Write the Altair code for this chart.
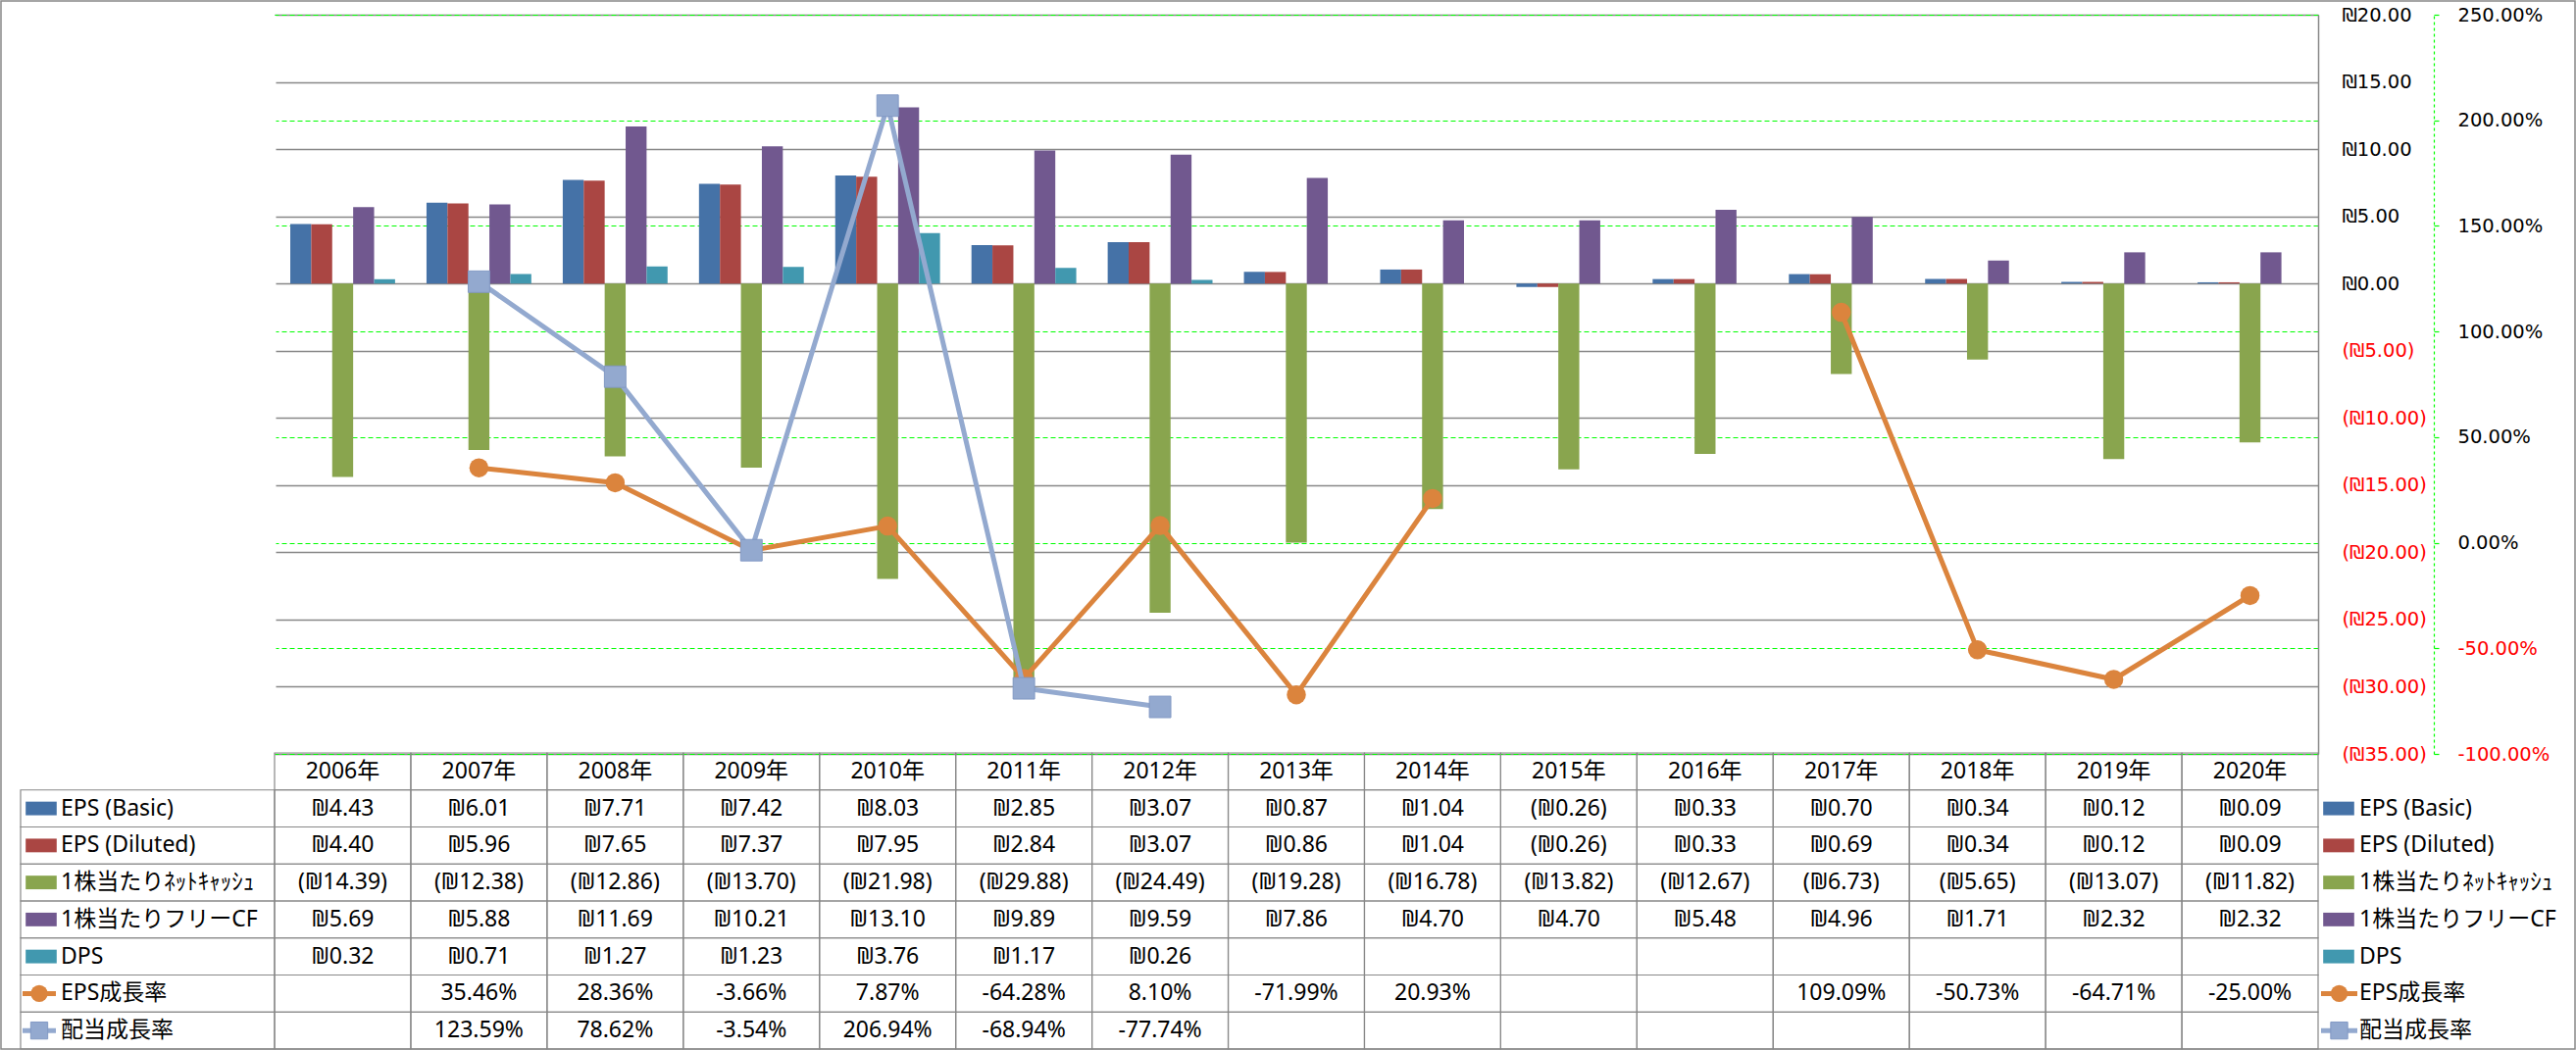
import altair as alt
import pandas as pd
import numpy as np

# ---------------- data ----------------
years = ["2006年", "2007年", "2008年", "2009年", "2010年", "2011年", "2012年", "2013年",
         "2014年", "2015年", "2016年", "2017年", "2018年", "2019年", "2020年"]
eps_basic = [4.43, 6.01, 7.71, 7.42, 8.03, 2.85, 3.07, 0.87, 1.04, -0.26, 0.33, 0.70, 0.34, 0.12, 0.09]
eps_diluted = [4.40, 5.96, 7.65, 7.37, 7.95, 2.84, 3.07, 0.86, 1.04, -0.26, 0.33, 0.69, 0.34, 0.12, 0.09]
net_cash = [-14.39, -12.38, -12.86, -13.70, -21.98, -29.88, -24.49, -19.28, -16.78, -13.82,
            -12.67, -6.73, -5.65, -13.07, -11.82]
free_cf = [5.69, 5.88, 11.69, 10.21, 13.10, 9.89, 9.59, 7.86, 4.70, 4.70, 5.48, 4.96, 1.71, 2.32, 2.32]
dps = [0.32, 0.71, 1.27, 1.23, 3.76, 1.17, 0.26, None, None, None, None, None, None, None, None]
eps_growth = [None, 35.46, 28.36, -3.66, 7.87, -64.28, 8.10, -71.99, 20.93, None, None,
              109.09, -50.73, -64.71, -25.00]
div_growth = [None, 123.59, 78.62, -3.54, 206.94, -68.94, -77.74, None, None, None, None,
              None, None, None, None]

bar_series = ["EPS (Basic)", "EPS (Diluted)", "1株当たりﾈｯﾄｷｬｯｼｭ", "1株当たりフリーCF", "DPS"]
line_series = ["EPS成長率", "配当成長率"]
bar_colors = ["#4572A7", "#AA4643", "#89A54E", "#71588F", "#4198AF"]
line_colors = ["#DB843D", "#93A9CF"]
money_ticks = [20, 15, 10, 5, 0, -5, -10, -15, -20, -25, -30, -35]
pct_ticks = [250, 200, 150, 100, 50, 0, -50, -100]
header_key = "header"

# ---------------- layout constants ----------------
W, H = 2084, 754
TABLE_TOP, TABLE_BOTTOM = 753, 1055
GRAY = "#888888"
GREEN = "#00FF00"
TFONT = "Noto Sans, Noto Sans CJK JP, DejaVu Sans"
TSIZE = 23
AFONT = "DejaVu Sans"
ASIZE = 19.5


def fmt_money(v):
    if v is None:
        return ""
    return "(₪%.2f)" % (-v) if v < 0 else "₪%.2f" % v


def fmt_pct(v):
    return "" if v is None else "%.2f%%" % v


bar_values = [eps_basic, eps_diluted, net_cash, free_cf, dps]
bar_rows = []
for s, vals in zip(bar_series, bar_values):
    for y, v in zip(years, vals):
        if v is not None:
            bar_rows.append({"year": y, "series": s, "value": v})
bar_df = pd.DataFrame(bar_rows)

eps_df = pd.DataFrame({"year": years, "pct": [np.nan if v is None else v for v in eps_growth]})
div_df = pd.DataFrame({"year": years, "pct": [np.nan if v is None else v for v in div_growth]})

row_keys = [header_key] + bar_series + line_series
text_rows = []
for y in years:
    text_rows.append({"year": y, "row": header_key, "text": y})
for s, vals in zip(bar_series, bar_values):
    for y, v in zip(years, vals):
        text_rows.append({"year": y, "row": s, "text": fmt_money(v)})
for s, vals in zip(line_series, [eps_growth, div_growth]):
    for y, v in zip(years, vals):
        text_rows.append({"year": y, "row": s, "text": fmt_pct(v)})
text_df = pd.DataFrame(text_rows)
cell_df = text_df[["year", "row"]]

label_df = pd.DataFrame({"row": bar_series + line_series})
swatch_df = pd.DataFrame({"row": bar_series, "series": bar_series})
icon_df = pd.DataFrame({"row": line_series, "color": line_colors})
one_df = pd.DataFrame({"a": [0]})

# ---------------- scales / axes ----------------
x_enc = alt.X("year:N", scale=alt.Scale(type="band", domain=years, paddingInner=0, paddingOuter=0),
              axis=None)
money_scale = alt.Scale(domain=[-35, 20], range=[H, 0], nice=False)
pct_scale = alt.Scale(domain=[-100, 250], range=[H, 0], nice=False, zero=False)
row_scale = alt.Scale(type="band", domain=row_keys, range=[TABLE_TOP, TABLE_BOTTOM],
                      paddingInner=0, paddingOuter=0)
row_y = alt.Y("row:N", scale=row_scale, axis=None)
color_scale = alt.Scale(domain=bar_series, range=bar_colors)

money_axis = alt.Axis(
    orient="right", values=money_ticks, title=None,
    grid=True, gridColor=GRAY, gridWidth=1.5,
    domain=True, domainColor=GRAY, domainWidth=1.5,
    ticks=False, tickSize=0, labelPadding=24,
    labelAlign="left", labelBaseline="middle", labelOverlap=False,
    labelFont=AFONT, labelFontSize=ASIZE,
    labelExpr="datum.value < 0 ? '(₪' + format(-datum.value, '.2f') + ')' : '₪' + format(datum.value, '.2f')",
    labelColor={"condition": {"test": "datum.value < 0", "value": "#FF0000"}, "value": "#000000"},
)
pct_axis = alt.Axis(
    orient="right", offset=118, values=pct_ticks, title=None,
    grid=True, gridColor=GREEN, gridWidth=1.2, gridDash=[5, 3],
    domain=True, domainColor=GREEN, domainWidth=1.2, domainDash=[3, 3],
    ticks=True, tickColor=GREEN, tickSize=5, tickWidth=1.2,
    labelPadding=19, labelAlign="left", labelBaseline="middle", labelOverlap=False,
    labelFont=AFONT, labelFontSize=ASIZE,
    labelExpr="(datum.value < 0 ? '-' : '') + format(abs(datum.value), '.2f') + '%'",
    labelColor={"condition": {"test": "datum.value < 0", "value": "#FF0000"}, "value": "#000000"},
)

# ---------------- layers ----------------
border = alt.Chart(one_df).mark_rect(fillOpacity=0, stroke=GRAY, strokeWidth=1.5).encode(
    x=alt.value(-279), x2=alt.value(2346), y=alt.value(-14), y2=alt.value(1055)
)

bars = alt.Chart(bar_df).mark_bar().encode(
    x=x_enc,
    xOffset=alt.XOffset("series:N", sort=bar_series,
                        scale=alt.Scale(domain=bar_series, paddingInner=0, paddingOuter=0.75)),
    y=alt.Y("value:Q", scale=money_scale, axis=money_axis),
    color=alt.Color("series:N", scale=color_scale, legend=None),
)

eps_line = alt.Chart(eps_df).mark_line(
    color=line_colors[0], strokeWidth=5, invalid="break-paths-show-domains"
).encode(x=x_enc, y=alt.Y("pct:Q", scale=pct_scale, axis=pct_axis))
eps_pts = alt.Chart(eps_df).mark_point(
    shape="circle", filled=True, size=380, color=line_colors[0], opacity=1
).encode(x=x_enc, y=alt.Y("pct:Q", scale=pct_scale, axis=None))

div_line = alt.Chart(div_df).mark_line(
    color=line_colors[1], strokeWidth=5, invalid="break-paths-show-domains"
).encode(x=x_enc, y=alt.Y("pct:Q", scale=pct_scale, axis=None))
div_pts = alt.Chart(div_df).mark_point(
    shape="square", filled=True, size=480, color=line_colors[1], opacity=1,
    stroke="#8299C4", strokeWidth=1
).encode(x=x_enc, y=alt.Y("pct:Q", scale=pct_scale, axis=None))

cells = alt.Chart(cell_df).mark_rect(fillOpacity=0, stroke=GRAY, strokeWidth=1.2).encode(
    x=x_enc, y=row_y
)
cell_text = alt.Chart(text_df).mark_text(
    font=TFONT, fontSize=TSIZE, color="#000000", baseline="middle", align="center"
).encode(x=x_enc, y=row_y, text="text:N")

# left label column
lab_cells = alt.Chart(label_df).mark_rect(fillOpacity=0, stroke=GRAY, strokeWidth=1.2).encode(
    x=alt.value(-259), x2=alt.value(0), y=row_y
)
SW_PATH = "M-1,-0.44H1V0.44H-1Z"


def legend_layers(sw_x, icon_x1, icon_x2, text_x):
    sw = alt.Chart(swatch_df).mark_point(
        shape=SW_PATH, filled=True, size=1000, opacity=1, strokeWidth=0
    ).encode(x=alt.value(sw_x), y=row_y, color=alt.Color("series:N", scale=color_scale, legend=None))
    rule = alt.Chart(icon_df).mark_rule(strokeWidth=5).encode(
        x=alt.value(icon_x1), x2=alt.value(icon_x2), y=row_y,
        color=alt.Color("color:N", scale=None, legend=None)
    )
    dot1 = alt.Chart(icon_df.iloc[[0]]).mark_point(
        shape="circle", filled=True, size=300, opacity=1, color=line_colors[0]
    ).encode(x=alt.value((icon_x1 + icon_x2) / 2), y=row_y)
    dot2 = alt.Chart(icon_df.iloc[[1]]).mark_point(
        shape="square", filled=True, size=300, opacity=1, color=line_colors[1],
        stroke="#8299C4", strokeWidth=1
    ).encode(x=alt.value((icon_x1 + icon_x2) / 2), y=row_y)
    txt = alt.Chart(label_df).mark_text(
        font=TFONT, fontSize=TSIZE, color="#000000", align="left", baseline="middle"
    ).encode(x=alt.value(text_x), y=row_y, text="row:N")
    return [sw, rule, dot1, dot2, txt]


left_legend = legend_layers(-238, -257, -223, -218)
right_legend = legend_layers(2105, 2087, 2124, 2126)

# white mask over the plot area's left edge (the reference has no left frame line)
left_mask = alt.Chart(one_df).mark_rule(color="white", strokeWidth=3).encode(
    x=alt.value(0), y=alt.value(1), y2=alt.value(H - 2)
)

chart = alt.layer(
    border, bars, eps_line, eps_pts, div_line, div_pts, cells, cell_text, lab_cells,
    *left_legend, *right_legend, left_mask
).resolve_scale(
    y="independent"
).properties(
    width=W, height=H,
    background="white",
    view=alt.ViewBackground(strokeWidth=0, strokeOpacity=0),
    autosize=alt.AutoSizeParams(type="none"),
    padding={"left": 280, "top": 15, "right": 263, "bottom": 302},
).configure_view(
    strokeWidth=0, strokeOpacity=0
)

chart.save("out.html", embed_options={"renderer": "svg", "actions": False})
